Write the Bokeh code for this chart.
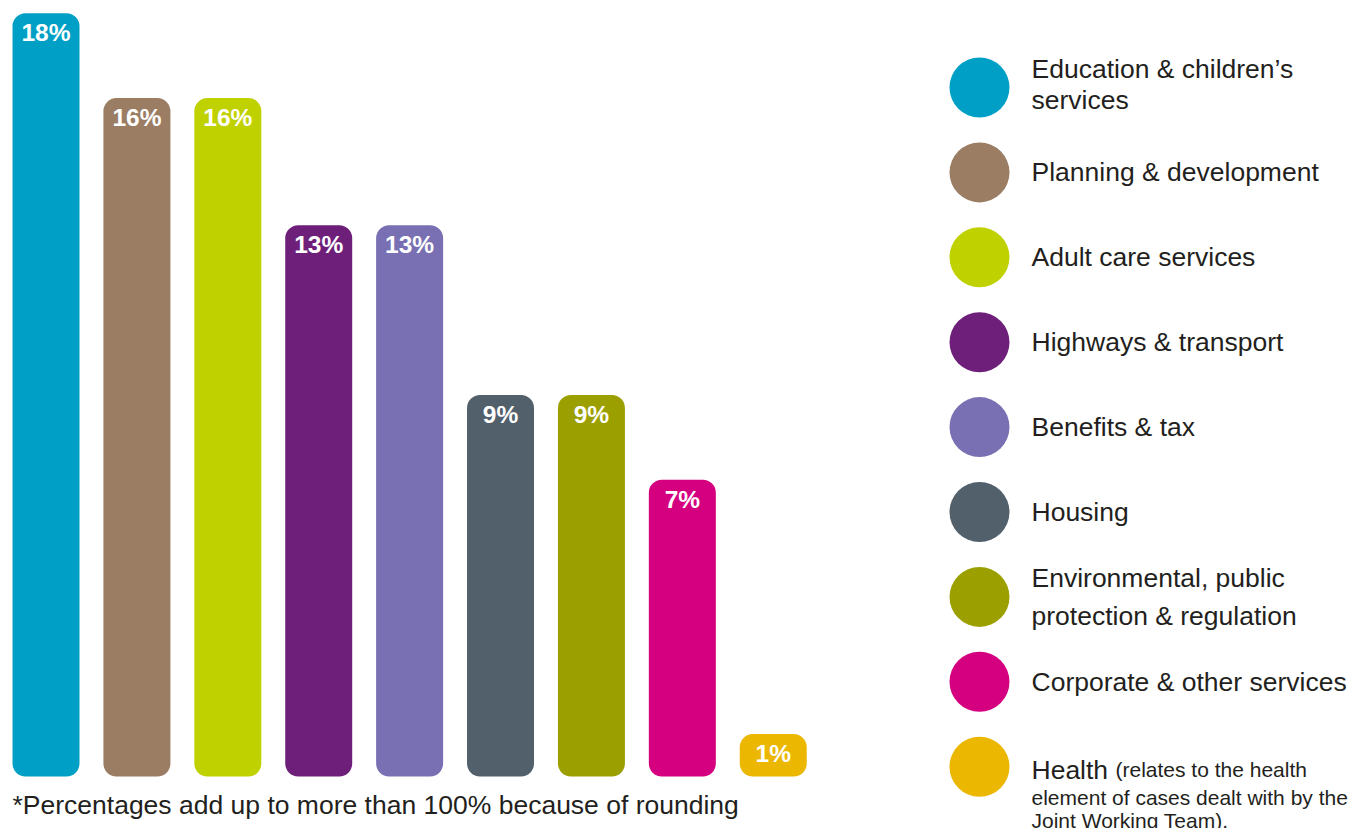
from bokeh.plotting import figure
from bokeh.layouts import row
from bokeh.models import Range1d, ColumnDataSource, Label
from bokeh.core.properties import value
from bokeh.embed import file_html
from bokeh.resources import INLINE

# ---- data ----
categories = [
    "Education & children’s\nservices",
    "Planning & development",
    "Adult care services",
    "Highways & transport",
    "Benefits & tax",
    "Housing",
    "Environmental, public\nprotection & regulation",
    "Corporate & other services",
    "Health",
]
percentages = [18, 16, 16, 13, 13, 9, 9, 7, 1]
colors = ["#00a0c6", "#9b7d64", "#c0d100", "#6e1f7a", "#7870b2",
          "#52606c", "#9c9f00", "#d4007f", "#ebb700"]
health_note = ["(relates to the health", "element of cases dealt with by the", "Joint Working Team)."]
footnote = "*Percentages add up to more than 100% because of rounding"

FONT = "Liberation Sans"
TXT = "#231f20"

# ---- bar chart ----
idx = list(range(len(percentages)))
bars = ColumnDataSource(dict(x=idx, top=percentages, color=colors,
                             label=[f"{v}%" for v in percentages]))

W1, H = 930, 828
p = figure(width=W1, height=H, output_backend="svg", toolbar_location=None,
           x_range=Range1d(-0.5006, 9.730), y_range=Range1d(-1.226, 18.302),
           min_border=0, outline_line_color=None, background_fill_color="white",
           border_fill_color="white")
p.axis.visible = False
p.grid.visible = False
p.vbar(x="x", top="top", bottom=0, width=0.737, color="color", line_color=None,
       border_radius=13, source=bars)
p.text(x="x", y="top", text="label", source=bars, text_align="center",
       text_baseline="top", y_offset=6, text_color="white",
       text_font=value(FONT), text_font_style="bold", text_font_size="24.5px")
p.add_layout(Label(x=12, y=24, x_units="screen", y_units="screen", text=footnote,
                   text_font=FONT, text_font_size="26.5px", text_color=TXT,
                   text_baseline="alphabetic"))

# ---- legend ----
W2 = 424
PX = 84.9
TOP = -87 / PX
q = figure(width=W2, height=H, output_backend="svg", toolbar_location=None,
           x_range=Range1d(0, W2), y_range=Range1d(TOP + H / PX, TOP),
           min_border=0, outline_line_color=None, background_fill_color="white",
           border_fill_color="white")
q.axis.visible = False
q.grid.visible = False
q.scatter(x=[49] * len(idx), y=idx, size=60, color=colors, line_color=None)

line_gap = {0: 31, 6: 38}
lx, ly, lt = [], [], []
for i, name in enumerate(categories):
    parts = name.split("\n")
    if len(parts) == 1:
        offs = [3] if i == len(categories) - 1 else [0]
    else:
        offs = [-19, -19 + line_gap[i]]
    for t, o in zip(parts, offs):
        lx.append(101)
        ly.append(i + o / PX)
        lt.append(t)
q.text(x=lx, y=ly, text=lt, text_baseline="alphabetic", text_align="left",
       text_color=TXT, text_font=value(FONT), text_font_size="26.5px")

hi = len(categories) - 1
nx = [185, 101, 101]
noffs = [3, 31, 54]
q.text(x=nx, y=[hi + o / PX for o in noffs], text=health_note,
       text_baseline="alphabetic", text_align="left", text_color=TXT,
       text_font=value(FONT), text_font_size="21px")

layout = row(p, q)
open("out.html", "w").write(file_html(layout, INLINE))
